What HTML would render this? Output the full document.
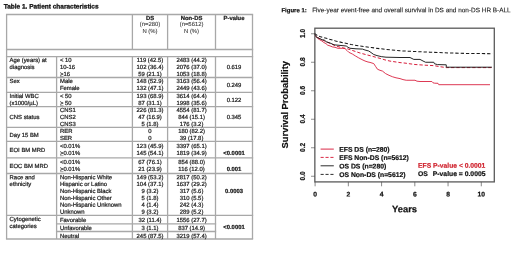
<!DOCTYPE html>
<html><head><meta charset="utf-8"><title>Table 1 and Figure 1</title>
<style>
html,body{margin:0;padding:0;background:#fff;}
body{width:520px;height:255px;position:relative;overflow:hidden;filter:blur(0.3px);font-family:"Liberation Sans",sans-serif;}
.t{position:absolute;white-space:nowrap;-webkit-text-stroke:0.22px #1a1a1a;}
.l{position:absolute;}
u{text-decoration-thickness:0.4px;text-underline-offset:0.2px;text-decoration-color:#555;}
</style></head><body>

<svg width="520" height="255" viewBox="0 0 520 255" style="position:absolute;left:0;top:0" font-family="Liberation Sans, sans-serif">
<g stroke="#a8a8a8" stroke-width="1.3" fill="none"><line x1="5.95" y1="14.50" x2="253.15" y2="14.50"/><line x1="5.95" y1="49.50" x2="253.15" y2="49.50"/><line x1="5.95" y1="56.70" x2="253.15" y2="56.70"/><line x1="5.95" y1="77.50" x2="253.15" y2="77.50"/><line x1="5.95" y1="92.40" x2="253.15" y2="92.40"/><line x1="5.95" y1="106.60" x2="253.15" y2="106.60"/><line x1="5.95" y1="127.40" x2="253.15" y2="127.40"/><line x1="5.95" y1="141.40" x2="253.15" y2="141.40"/><line x1="5.95" y1="157.90" x2="253.15" y2="157.90"/><line x1="5.95" y1="173.50" x2="253.15" y2="173.50"/><line x1="5.95" y1="215.40" x2="253.15" y2="215.40"/><line x1="5.95" y1="239.00" x2="253.15" y2="239.00"/><line x1="6.60" y1="14.50" x2="6.60" y2="239.00"/><line x1="252.50" y1="14.50" x2="252.50" y2="239.00"/><line x1="56.60" y1="56.70" x2="56.60" y2="239.00"/><line x1="132.40" y1="14.50" x2="132.40" y2="49.50"/><line x1="132.40" y1="56.70" x2="132.40" y2="239.00"/><line x1="167.60" y1="14.50" x2="167.60" y2="49.50"/><line x1="167.60" y1="56.70" x2="167.60" y2="239.00"/><line x1="215.50" y1="14.50" x2="215.50" y2="49.50"/><line x1="215.50" y1="56.70" x2="215.50" y2="239.00"/><line x1="55.95" y1="223.80" x2="216.15" y2="223.80"/><line x1="55.95" y1="231.50" x2="216.15" y2="231.50"/></g>
<text transform="translate(3.7,8.4) rotate(0.03)" font-size="6.5" font-weight="bold" fill="#111" stroke="#111" stroke-width="0.28">Table 1. Patient characteristics</text>
<g font-size="5.9"><text transform="translate(150.00,20.00) rotate(0.03)" text-anchor="middle" font-weight="bold" fill="#1a1a1a" stroke="#1a1a1a" stroke-width="0.22">DS</text><text transform="translate(150.00,26.00) rotate(0.03)" text-anchor="middle" fill="#3a3a3a" stroke="#3a3a3a" stroke-width="0.1">(n=280)</text><text transform="translate(150.00,33.00) rotate(0.03)" text-anchor="middle" fill="#3a3a3a" stroke="#3a3a3a" stroke-width="0.1">N (%)</text><text transform="translate(191.55,20.00) rotate(0.03)" text-anchor="middle" font-weight="bold" fill="#1a1a1a" stroke="#1a1a1a" stroke-width="0.22">Non-DS</text><text transform="translate(191.55,26.00) rotate(0.03)" text-anchor="middle" fill="#3a3a3a" stroke="#3a3a3a" stroke-width="0.1">(n=5612)</text><text transform="translate(191.55,33.00) rotate(0.03)" text-anchor="middle" fill="#3a3a3a" stroke="#3a3a3a" stroke-width="0.1">N (%)</text><text transform="translate(234.00,20.00) rotate(0.03)" text-anchor="middle" font-weight="bold" fill="#1a1a1a" stroke="#1a1a1a" stroke-width="0.22">P-value</text><text transform="translate(60.00,62.00) rotate(0.03)" fill="#1a1a1a" stroke="#1a1a1a" stroke-width="0.22">&lt; 10</text><text transform="translate(150.00,62.00) rotate(0.03)" text-anchor="middle" fill="#1a1a1a" stroke="#1a1a1a" stroke-width="0.22">119 (42.5)</text><text transform="translate(191.55,62.00) rotate(0.03)" text-anchor="middle" fill="#1a1a1a" stroke="#1a1a1a" stroke-width="0.22">2483 (44.2)</text><text transform="translate(60.00,69.00) rotate(0.03)" fill="#1a1a1a" stroke="#1a1a1a" stroke-width="0.22">10-16</text><text transform="translate(150.00,69.00) rotate(0.03)" text-anchor="middle" fill="#1a1a1a" stroke="#1a1a1a" stroke-width="0.22">102 (36.4)</text><text transform="translate(191.55,69.00) rotate(0.03)" text-anchor="middle" fill="#1a1a1a" stroke="#1a1a1a" stroke-width="0.22">2076 (37.0)</text><text transform="translate(60.00,76.00) rotate(0.03)" fill="#1a1a1a" stroke="#1a1a1a" stroke-width="0.22">&gt;16</text><text transform="translate(150.00,76.00) rotate(0.03)" text-anchor="middle" fill="#1a1a1a" stroke="#1a1a1a" stroke-width="0.22">59 (21.1)</text><text transform="translate(191.55,76.00) rotate(0.03)" text-anchor="middle" fill="#1a1a1a" stroke="#1a1a1a" stroke-width="0.22">1053 (18.8)</text><text transform="translate(9.60,62.00) rotate(0.03)" fill="#1a1a1a" stroke="#1a1a1a" stroke-width="0.22">Age (years) at</text><text transform="translate(9.60,69.00) rotate(0.03)" fill="#1a1a1a" stroke="#1a1a1a" stroke-width="0.22">diagnosis</text><text transform="translate(234.00,69.00) rotate(0.03)" text-anchor="middle" fill="#1a1a1a" stroke="#1a1a1a" stroke-width="0.22">0.619</text><text transform="translate(60.00,83.00) rotate(0.03)" fill="#1a1a1a" stroke="#1a1a1a" stroke-width="0.22">Male</text><text transform="translate(150.00,83.00) rotate(0.03)" text-anchor="middle" fill="#1a1a1a" stroke="#1a1a1a" stroke-width="0.22">148 (52.9)</text><text transform="translate(191.55,83.00) rotate(0.03)" text-anchor="middle" fill="#1a1a1a" stroke="#1a1a1a" stroke-width="0.22">3163 (56.4)</text><text transform="translate(60.00,90.00) rotate(0.03)" fill="#1a1a1a" stroke="#1a1a1a" stroke-width="0.22">Female</text><text transform="translate(150.00,90.00) rotate(0.03)" text-anchor="middle" fill="#1a1a1a" stroke="#1a1a1a" stroke-width="0.22">132 (47.1)</text><text transform="translate(191.55,90.00) rotate(0.03)" text-anchor="middle" fill="#1a1a1a" stroke="#1a1a1a" stroke-width="0.22">2449 (43.6)</text><text transform="translate(9.60,83.00) rotate(0.03)" fill="#1a1a1a" stroke="#1a1a1a" stroke-width="0.22">Sex</text><text transform="translate(234.00,87.00) rotate(0.03)" text-anchor="middle" fill="#1a1a1a" stroke="#1a1a1a" stroke-width="0.22">0.249</text><text transform="translate(60.00,98.00) rotate(0.03)" fill="#1a1a1a" stroke="#1a1a1a" stroke-width="0.22">&lt; 50</text><text transform="translate(150.00,98.00) rotate(0.03)" text-anchor="middle" fill="#1a1a1a" stroke="#1a1a1a" stroke-width="0.22">193 (68.9)</text><text transform="translate(191.55,98.00) rotate(0.03)" text-anchor="middle" fill="#1a1a1a" stroke="#1a1a1a" stroke-width="0.22">3614 (64.4)</text><text transform="translate(60.00,105.00) rotate(0.03)" fill="#1a1a1a" stroke="#1a1a1a" stroke-width="0.22">&gt; 50</text><text transform="translate(150.00,105.00) rotate(0.03)" text-anchor="middle" fill="#1a1a1a" stroke="#1a1a1a" stroke-width="0.22">87 (31.1)</text><text transform="translate(191.55,105.00) rotate(0.03)" text-anchor="middle" fill="#1a1a1a" stroke="#1a1a1a" stroke-width="0.22">1998 (35.6)</text><text transform="translate(9.60,98.00) rotate(0.03)" fill="#1a1a1a" stroke="#1a1a1a" stroke-width="0.22">Initial WBC</text><text transform="translate(9.60,105.00) rotate(0.03)" fill="#1a1a1a" stroke="#1a1a1a" stroke-width="0.22">(x1000/µL)</text><text transform="translate(234.00,102.00) rotate(0.03)" text-anchor="middle" fill="#1a1a1a" stroke="#1a1a1a" stroke-width="0.22">0.122</text><text transform="translate(60.00,112.00) rotate(0.03)" fill="#1a1a1a" stroke="#1a1a1a" stroke-width="0.22">CNS1</text><text transform="translate(150.00,112.00) rotate(0.03)" text-anchor="middle" fill="#1a1a1a" stroke="#1a1a1a" stroke-width="0.22">226 (81.3)</text><text transform="translate(191.55,112.00) rotate(0.03)" text-anchor="middle" fill="#1a1a1a" stroke="#1a1a1a" stroke-width="0.22">4554 (81.7)</text><text transform="translate(60.00,119.00) rotate(0.03)" fill="#1a1a1a" stroke="#1a1a1a" stroke-width="0.22">CNS2</text><text transform="translate(150.00,119.00) rotate(0.03)" text-anchor="middle" fill="#1a1a1a" stroke="#1a1a1a" stroke-width="0.22">47 (16.9)</text><text transform="translate(191.55,119.00) rotate(0.03)" text-anchor="middle" fill="#1a1a1a" stroke="#1a1a1a" stroke-width="0.22">844 (15.1)</text><text transform="translate(60.00,126.00) rotate(0.03)" fill="#1a1a1a" stroke="#1a1a1a" stroke-width="0.22">CNS3</text><text transform="translate(150.00,126.00) rotate(0.03)" text-anchor="middle" fill="#1a1a1a" stroke="#1a1a1a" stroke-width="0.22">5 (1.8)</text><text transform="translate(191.55,126.00) rotate(0.03)" text-anchor="middle" fill="#1a1a1a" stroke="#1a1a1a" stroke-width="0.22">176 (3.2)</text><text transform="translate(9.60,119.00) rotate(0.03)" fill="#1a1a1a" stroke="#1a1a1a" stroke-width="0.22">CNS status</text><text transform="translate(234.00,119.00) rotate(0.03)" text-anchor="middle" fill="#1a1a1a" stroke="#1a1a1a" stroke-width="0.22">0.345</text><text transform="translate(60.00,133.00) rotate(0.03)" fill="#1a1a1a" stroke="#1a1a1a" stroke-width="0.22">RER</text><text transform="translate(150.00,133.00) rotate(0.03)" text-anchor="middle" fill="#1a1a1a" stroke="#1a1a1a" stroke-width="0.22">0</text><text transform="translate(191.55,133.00) rotate(0.03)" text-anchor="middle" fill="#1a1a1a" stroke="#1a1a1a" stroke-width="0.22">180 (82.2)</text><text transform="translate(60.00,140.00) rotate(0.03)" fill="#1a1a1a" stroke="#1a1a1a" stroke-width="0.22">SER</text><text transform="translate(150.00,140.00) rotate(0.03)" text-anchor="middle" fill="#1a1a1a" stroke="#1a1a1a" stroke-width="0.22">0</text><text transform="translate(191.55,140.00) rotate(0.03)" text-anchor="middle" fill="#1a1a1a" stroke="#1a1a1a" stroke-width="0.22">39 (17.8)</text><text transform="translate(9.60,137.00) rotate(0.03)" fill="#1a1a1a" stroke="#1a1a1a" stroke-width="0.22">Day 15 BM</text><text transform="translate(60.00,148.00) rotate(0.03)" fill="#1a1a1a" stroke="#1a1a1a" stroke-width="0.22">&lt;0.01%</text><text transform="translate(150.00,148.00) rotate(0.03)" text-anchor="middle" fill="#1a1a1a" stroke="#1a1a1a" stroke-width="0.22">123 (45.9)</text><text transform="translate(191.55,148.00) rotate(0.03)" text-anchor="middle" fill="#1a1a1a" stroke="#1a1a1a" stroke-width="0.22">3397 (65.1)</text><text transform="translate(60.00,155.00) rotate(0.03)" fill="#1a1a1a" stroke="#1a1a1a" stroke-width="0.22">&gt;0.01%</text><text transform="translate(150.00,155.00) rotate(0.03)" text-anchor="middle" fill="#1a1a1a" stroke="#1a1a1a" stroke-width="0.22">145 (54.1)</text><text transform="translate(191.55,155.00) rotate(0.03)" text-anchor="middle" fill="#1a1a1a" stroke="#1a1a1a" stroke-width="0.22">1819 (34.9)</text><text transform="translate(9.60,152.00) rotate(0.03)" fill="#1a1a1a" stroke="#1a1a1a" stroke-width="0.22">EOI BM MRD</text><text transform="translate(234.00,155.00) rotate(0.03)" text-anchor="middle" font-weight="bold" fill="#1a1a1a" stroke="#1a1a1a" stroke-width="0.22">&lt;0.0001</text><text transform="translate(60.00,164.00) rotate(0.03)" fill="#1a1a1a" stroke="#1a1a1a" stroke-width="0.22">&lt;0.01%</text><text transform="translate(150.00,164.00) rotate(0.03)" text-anchor="middle" fill="#1a1a1a" stroke="#1a1a1a" stroke-width="0.22">67 (76.1)</text><text transform="translate(191.55,164.00) rotate(0.03)" text-anchor="middle" fill="#1a1a1a" stroke="#1a1a1a" stroke-width="0.22">854 (88.0)</text><text transform="translate(60.00,171.00) rotate(0.03)" fill="#1a1a1a" stroke="#1a1a1a" stroke-width="0.22">&gt;0.01%</text><text transform="translate(150.00,171.00) rotate(0.03)" text-anchor="middle" fill="#1a1a1a" stroke="#1a1a1a" stroke-width="0.22">21 (23.9)</text><text transform="translate(191.55,171.00) rotate(0.03)" text-anchor="middle" fill="#1a1a1a" stroke="#1a1a1a" stroke-width="0.22">116 (12.0)</text><text transform="translate(9.60,168.00) rotate(0.03)" fill="#1a1a1a" stroke="#1a1a1a" stroke-width="0.22">EOC BM MRD</text><text transform="translate(234.00,171.00) rotate(0.03)" text-anchor="middle" font-weight="bold" fill="#1a1a1a" stroke="#1a1a1a" stroke-width="0.22">0.001</text><text transform="translate(60.00,179.20) rotate(0.03)" fill="#1a1a1a" stroke="#1a1a1a" stroke-width="0.22">Non-Hispanic White</text><text transform="translate(150.00,179.20) rotate(0.03)" text-anchor="middle" fill="#1a1a1a" stroke="#1a1a1a" stroke-width="0.22">149 (53.2)</text><text transform="translate(191.55,179.20) rotate(0.03)" text-anchor="middle" fill="#1a1a1a" stroke="#1a1a1a" stroke-width="0.22">2817 (50.2)</text><text transform="translate(60.00,186.10) rotate(0.03)" fill="#1a1a1a" stroke="#1a1a1a" stroke-width="0.22">Hispanic or Latino</text><text transform="translate(150.00,186.10) rotate(0.03)" text-anchor="middle" fill="#1a1a1a" stroke="#1a1a1a" stroke-width="0.22">104 (37.1)</text><text transform="translate(191.55,186.10) rotate(0.03)" text-anchor="middle" fill="#1a1a1a" stroke="#1a1a1a" stroke-width="0.22">1637 (29.2)</text><text transform="translate(60.00,193.00) rotate(0.03)" fill="#1a1a1a" stroke="#1a1a1a" stroke-width="0.22">Non-Hispanic Black</text><text transform="translate(150.00,193.00) rotate(0.03)" text-anchor="middle" fill="#1a1a1a" stroke="#1a1a1a" stroke-width="0.22">9 (3.2)</text><text transform="translate(191.55,193.00) rotate(0.03)" text-anchor="middle" fill="#1a1a1a" stroke="#1a1a1a" stroke-width="0.22">317 (5.6)</text><text transform="translate(60.00,199.90) rotate(0.03)" fill="#1a1a1a" stroke="#1a1a1a" stroke-width="0.22">Non-Hispanic Other</text><text transform="translate(150.00,199.90) rotate(0.03)" text-anchor="middle" fill="#1a1a1a" stroke="#1a1a1a" stroke-width="0.22">5 (1.8)</text><text transform="translate(191.55,199.90) rotate(0.03)" text-anchor="middle" fill="#1a1a1a" stroke="#1a1a1a" stroke-width="0.22">310 (5.5)</text><text transform="translate(60.00,206.80) rotate(0.03)" fill="#1a1a1a" stroke="#1a1a1a" stroke-width="0.22">Non-Hispanic Unknown</text><text transform="translate(150.00,206.80) rotate(0.03)" text-anchor="middle" fill="#1a1a1a" stroke="#1a1a1a" stroke-width="0.22">4 (1.4)</text><text transform="translate(191.55,206.80) rotate(0.03)" text-anchor="middle" fill="#1a1a1a" stroke="#1a1a1a" stroke-width="0.22">242 (4.3)</text><text transform="translate(60.00,213.70) rotate(0.03)" fill="#1a1a1a" stroke="#1a1a1a" stroke-width="0.22">Unknown</text><text transform="translate(150.00,213.70) rotate(0.03)" text-anchor="middle" fill="#1a1a1a" stroke="#1a1a1a" stroke-width="0.22">9 (3.2)</text><text transform="translate(191.55,213.70) rotate(0.03)" text-anchor="middle" fill="#1a1a1a" stroke="#1a1a1a" stroke-width="0.22">289 (5.2)</text><text transform="translate(9.60,179.20) rotate(0.03)" fill="#1a1a1a" stroke="#1a1a1a" stroke-width="0.22">Race and</text><text transform="translate(9.60,186.10) rotate(0.03)" fill="#1a1a1a" stroke="#1a1a1a" stroke-width="0.22">ethnicity</text><text transform="translate(234.00,193.00) rotate(0.03)" text-anchor="middle" font-weight="bold" fill="#1a1a1a" stroke="#1a1a1a" stroke-width="0.22">0.0003</text><text transform="translate(60.00,222.00) rotate(0.03)" fill="#1a1a1a" stroke="#1a1a1a" stroke-width="0.22">Favorable</text><text transform="translate(150.00,222.00) rotate(0.03)" text-anchor="middle" fill="#1a1a1a" stroke="#1a1a1a" stroke-width="0.22">32 (11.4)</text><text transform="translate(191.55,222.00) rotate(0.03)" text-anchor="middle" fill="#1a1a1a" stroke="#1a1a1a" stroke-width="0.22">1556 (27.7)</text><text transform="translate(60.00,230.00) rotate(0.03)" fill="#1a1a1a" stroke="#1a1a1a" stroke-width="0.22">Unfavorable</text><text transform="translate(150.00,230.00) rotate(0.03)" text-anchor="middle" fill="#1a1a1a" stroke="#1a1a1a" stroke-width="0.22">3 (1.1)</text><text transform="translate(191.55,230.00) rotate(0.03)" text-anchor="middle" fill="#1a1a1a" stroke="#1a1a1a" stroke-width="0.22">837 (14.9)</text><text transform="translate(60.00,238.00) rotate(0.03)" fill="#1a1a1a" stroke="#1a1a1a" stroke-width="0.22">Neutral</text><text transform="translate(150.00,238.00) rotate(0.03)" text-anchor="middle" fill="#1a1a1a" stroke="#1a1a1a" stroke-width="0.22">245 (87.5)</text><text transform="translate(191.55,238.00) rotate(0.03)" text-anchor="middle" fill="#1a1a1a" stroke="#1a1a1a" stroke-width="0.22">3219 (57.4)</text><text transform="translate(9.60,221.00) rotate(0.03)" fill="#1a1a1a" stroke="#1a1a1a" stroke-width="0.22">Cytogenetic</text><text transform="translate(9.60,228.00) rotate(0.03)" fill="#1a1a1a" stroke="#1a1a1a" stroke-width="0.22">categories</text><text transform="translate(234.00,229.00) rotate(0.03)" text-anchor="middle" font-weight="bold" fill="#1a1a1a" stroke="#1a1a1a" stroke-width="0.22">&lt;0.0001</text></g>
<g stroke="#333" stroke-width="0.45" fill="none"><line x1="60.00" y1="76.65" x2="63.45" y2="76.65"/><line x1="60.00" y1="105.65" x2="63.45" y2="105.65"/><line x1="60.00" y1="155.65" x2="63.45" y2="155.65"/><line x1="60.00" y1="171.65" x2="63.45" y2="171.65"/></g>
<text transform="translate(281.4,12.2) rotate(0.03)" font-size="6.0" font-weight="bold" fill="#111" stroke="#111" stroke-width="0.2">Figure 1:</text>
<text transform="translate(312.2,12.2) rotate(0.03)" font-size="6.43" fill="#222" stroke="#222" stroke-width="0.12">Five-year event-free and overall survival in DS and non-DS HR B-ALL</text>
<polyline points="314.6,33.5 315.6,36.2 317.5,38.2 319.8,39.8 322,41 323.8,42.5 326,43.6 327.7,45.2 330,45.9 332.4,46.9 335,47.3 337.9,48.3 342.5,48.3 345,48.6 347,50.5 348.75,52.25 352.5,54.1 355.5,56 358.75,57.9 362,59.6 365,61 368,62 370,62.4 373.75,63.6 375.5,66.3 377.5,69.25 380,70.3 382.5,71.1 385.6,73.6 389,75.3 392.5,76.75 396,77.8 400,78.6 403,79.6 406.25,80.25 415,80.25 417,81.2 420,81.5 431.9,81.5 433,82.8 434.75,83.2 438,83.3 438.75,84.7 490,84.7" fill="none" stroke="#d81e3c" stroke-width="0.88" stroke-linejoin="round"/>
<polyline points="314.6,33.5 316,36.6 320,38.8 325,41.2 330,43.4 336,46 342,47.7 347.5,48.8 354,51 360,53 367,54.9 371.25,56 380,58.4 385,59.9 390,61.1 400,62.6 405,63.1 415,64.5 425,65.2 433.75,65.6 440,66.7 446.25,67.6 491.9,67.6" fill="none" stroke="#d81e3c" stroke-width="1.0" stroke-dasharray="3.3 2.0" stroke-linejoin="round"/>
<polyline points="314.6,33.5 315.5,35.6 316.7,37.4 319.8,38.6 322.2,39.8 324.5,40.0 326.1,41.8 328,42.3 330,43 334,44.8 340,45.4 346.25,46 348,47.3 350,48.25 356,48.8 362.5,49.1 365,50 368.75,51 371,52.5 373.75,54.5 377,55.6 381.25,56.6 386,57.2 400,57.5 410,57.5 413.75,59.4 420,59.4 423,61 425.6,62.25 433.75,62.25 434.5,63.75 437.5,64.6 446.25,64.8 446.25,67.2 491.9,67.2" fill="none" stroke="#1a1a1a" stroke-width="0.95" stroke-linejoin="round"/>
<polyline points="314.6,33.5 317,35.3 319.8,36.6 323,37.5 327.7,38.7 335.5,40.9 343.4,42.8 351.2,44.5 360,46 371.25,47.5 380,48.7 390,49.8 400,50.8 410,51.3 430,52.2 450,53.0 465,53.4 492.5,53.7" fill="none" stroke="#1a1a1a" stroke-width="1.05" stroke-dasharray="3.3 2.0" stroke-linejoin="round"/>
<rect x="314.85" y="28.2" width="179.45" height="153.70000000000002" fill="none" stroke="#5a5a5a" stroke-width="1.3"/>
<line x1="311" y1="176.25" x2="314.85" y2="176.25" stroke="#444" stroke-width="0.6"/>
<text transform="translate(305.1,175.95) rotate(-90)" text-anchor="middle" font-size="6.55" font-weight="bold" fill="#111" stroke="#111" stroke-width="0.2">0.0</text>
<line x1="311" y1="147.75" x2="314.85" y2="147.75" stroke="#444" stroke-width="0.6"/>
<text transform="translate(305.1,147.45) rotate(-90)" text-anchor="middle" font-size="6.55" font-weight="bold" fill="#111" stroke="#111" stroke-width="0.2">0.2</text>
<line x1="311" y1="119.25" x2="314.85" y2="119.25" stroke="#444" stroke-width="0.6"/>
<text transform="translate(305.1,118.95) rotate(-90)" text-anchor="middle" font-size="6.55" font-weight="bold" fill="#111" stroke="#111" stroke-width="0.2">0.4</text>
<line x1="311" y1="90.75" x2="314.85" y2="90.75" stroke="#444" stroke-width="0.6"/>
<text transform="translate(305.1,90.45) rotate(-90)" text-anchor="middle" font-size="6.55" font-weight="bold" fill="#111" stroke="#111" stroke-width="0.2">0.6</text>
<line x1="311" y1="62.25" x2="314.85" y2="62.25" stroke="#444" stroke-width="0.6"/>
<text transform="translate(305.1,61.95) rotate(-90)" text-anchor="middle" font-size="6.55" font-weight="bold" fill="#111" stroke="#111" stroke-width="0.2">0.8</text>
<line x1="311" y1="33.75" x2="314.85" y2="33.75" stroke="#444" stroke-width="0.6"/>
<text transform="translate(305.1,33.45) rotate(-90)" text-anchor="middle" font-size="6.55" font-weight="bold" fill="#111" stroke="#111" stroke-width="0.2">1.0</text>
<line x1="315.10" y1="181.9" x2="315.10" y2="186.3" stroke="#555" stroke-width="0.7"/>
<text transform="translate(315.10,196.5) rotate(0.03)" text-anchor="middle" font-size="6.75" font-weight="bold" fill="#111" stroke="#111" stroke-width="0.2">0</text>
<line x1="348.34" y1="181.9" x2="348.34" y2="186.3" stroke="#555" stroke-width="0.7"/>
<text transform="translate(348.34,196.5) rotate(0.03)" text-anchor="middle" font-size="6.75" font-weight="bold" fill="#111" stroke="#111" stroke-width="0.2">2</text>
<line x1="381.58" y1="181.9" x2="381.58" y2="186.3" stroke="#555" stroke-width="0.7"/>
<text transform="translate(381.58,196.5) rotate(0.03)" text-anchor="middle" font-size="6.75" font-weight="bold" fill="#111" stroke="#111" stroke-width="0.2">4</text>
<line x1="414.82" y1="181.9" x2="414.82" y2="186.3" stroke="#555" stroke-width="0.7"/>
<text transform="translate(414.82,196.5) rotate(0.03)" text-anchor="middle" font-size="6.75" font-weight="bold" fill="#111" stroke="#111" stroke-width="0.2">6</text>
<line x1="448.06" y1="181.9" x2="448.06" y2="186.3" stroke="#555" stroke-width="0.7"/>
<text transform="translate(448.06,196.5) rotate(0.03)" text-anchor="middle" font-size="6.75" font-weight="bold" fill="#111" stroke="#111" stroke-width="0.2">8</text>
<line x1="481.30" y1="181.9" x2="481.30" y2="186.3" stroke="#555" stroke-width="0.7"/>
<text transform="translate(481.30,196.5) rotate(0.03)" text-anchor="middle" font-size="6.75" font-weight="bold" fill="#111" stroke="#111" stroke-width="0.2">10</text>
<text transform="translate(404.5,212.2) rotate(0.03)" text-anchor="middle" font-size="9.4" font-weight="bold" fill="#111" stroke="#111" stroke-width="0.2">Years</text>
<text transform="translate(288.3,104.7) rotate(-90)" text-anchor="middle" font-size="9.4" font-weight="bold" fill="#111" stroke="#111" stroke-width="0.2">Survival Probability</text>
<line x1="320.6" y1="149.10" x2="333.8" y2="149.10" stroke="#d81e3c" stroke-width="0.95"/>
<text transform="translate(339.2,151.75) rotate(0.03)" font-size="6.8" font-weight="bold" fill="#111" stroke="#111" stroke-width="0.2">EFS DS (n=280)</text>
<line x1="320.6" y1="157.40" x2="333.8" y2="157.40" stroke="#d81e3c" stroke-width="0.95" stroke-dasharray="3.1 1.8"/>
<text transform="translate(339.2,160.05) rotate(0.03)" font-size="6.8" font-weight="bold" fill="#111" stroke="#111" stroke-width="0.2">EFS Non-DS (n=5612)</text>
<line x1="320.6" y1="165.80" x2="333.8" y2="165.80" stroke="#222" stroke-width="0.95"/>
<text transform="translate(339.2,168.45) rotate(0.03)" font-size="6.8" font-weight="bold" fill="#111" stroke="#111" stroke-width="0.2">OS DS (n=280)</text>
<line x1="320.6" y1="174.40" x2="333.8" y2="174.40" stroke="#222" stroke-width="0.95" stroke-dasharray="3.1 1.8"/>
<text transform="translate(339.2,177.05) rotate(0.03)" font-size="6.8" font-weight="bold" fill="#111" stroke="#111" stroke-width="0.2">OS Non-DS (n=5612)</text>
<text transform="translate(418,167.75) rotate(0.03)" font-size="6.75" font-weight="bold" fill="#d02530" stroke="#d02530" stroke-width="0.2">EFS P-value &lt; 0.0001</text>
<text transform="translate(418,176.05) rotate(0.03)" font-size="6.8" font-weight="bold" fill="#111" stroke="#111" stroke-width="0.2">OS</text>
<text transform="translate(485.5,176.05) rotate(0.03)" text-anchor="end" font-size="6.8" font-weight="bold" fill="#111" stroke="#111" stroke-width="0.2">P-value = 0.0005</text>
</svg>
</body></html>
